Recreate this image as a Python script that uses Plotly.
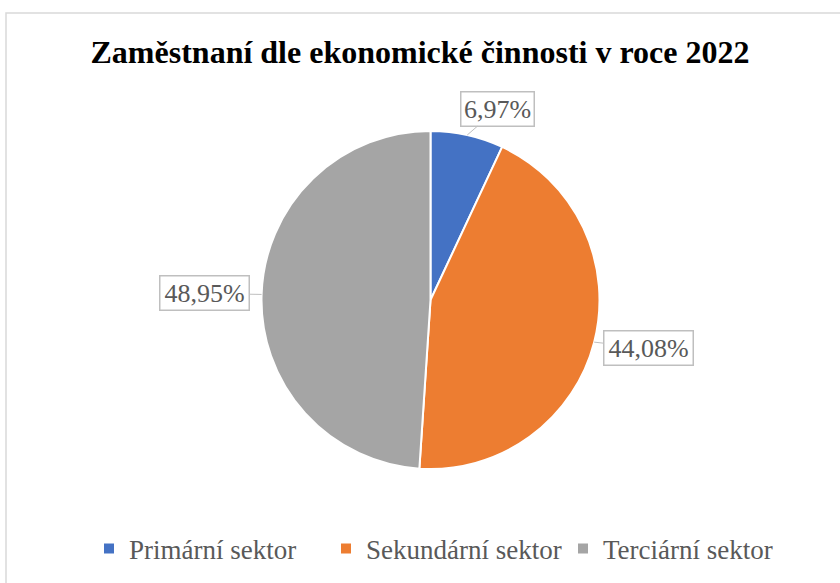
import plotly.graph_objects as go
import math

# data
sectors = ["Primární sektor", "Sekundární sektor", "Terciární sektor"]
shares = [6.97, 44.08, 48.95]
colors = ["#4472C4", "#ED7D31", "#A5A5A5"]

W, H = 840, 583
SERIF = "Liberation Serif"
# pie placement in pixels
cx, cy, r = 430.5, 300, 169
# callout box offsets from the slice edge (pixels)
offsets = [(30, -26), (54, 6), (-57, -1)]

fig = go.Figure(go.Pie(
    labels=sectors,
    values=shares,
    sort=False,
    direction="clockwise",
    rotation=0,
    textinfo="none",
    hoverinfo="label+percent",
    marker=dict(colors=colors, line=dict(color="white", width=2)),
    domain=dict(x=[(cx - r) / W, (cx + r) / W],
                y=[(H - cy - r) / H, (H - cy + r) / H]),
))

# callout labels pointing at the middle of each slice
total = sum(shares)
start = 0
for val, (ax, ay) in zip(shares, offsets):
    mid = (start + val / 2) / total * 2 * math.pi
    start += val
    px = cx + r * math.sin(mid)
    py = cy - r * math.cos(mid)
    label = f"{val:.2f}".replace(".", ",") + "%"
    fig.add_annotation(
        x=px / W, y=(H - py) / H, xref="paper", yref="paper",
        text=label, width=len(label) * 16 - 12,
        showarrow=True, arrowhead=0, arrowwidth=1, arrowcolor="#BFBFBF",
        ax=ax, ay=ay, standoff=0,
        bordercolor="#BFBFBF", borderwidth=1.5, borderpad=2, bgcolor="white",
        font=dict(family=SERIF, size=26, color="#595959"),
    )

# chart frame
fig.add_shape(type="rect", xref="paper", yref="paper",
              x0=6 / W, x1=1.02, y0=-0.02, y1=(H - 13) / H,
              line=dict(color="#D9D9D9", width=1.5), layer="below")

fig.update_layout(
    width=W, height=H,
    margin=dict(l=0, r=0, t=0, b=0),
    paper_bgcolor="white",
    font=dict(family=SERIF, color="#595959"),
    title=dict(text="<b>Zaměstnaní dle ekonomické činnosti v roce 2022</b>",
               x=0.5, xanchor="center", y=(H - 52) / H, yanchor="middle",
               font=dict(family=SERIF, size=32, color="black")),
    showlegend=True,
    legend=dict(orientation="h", x=89 / W, xanchor="left",
                y=(H - 549) / H, yanchor="middle", entrywidth=192,
                font=dict(family=SERIF, size=27, color="#595959")),
)

fig.write_html("out.html", config={"displayModeBar": False},
               post_script="document.body.style.margin='0';")
